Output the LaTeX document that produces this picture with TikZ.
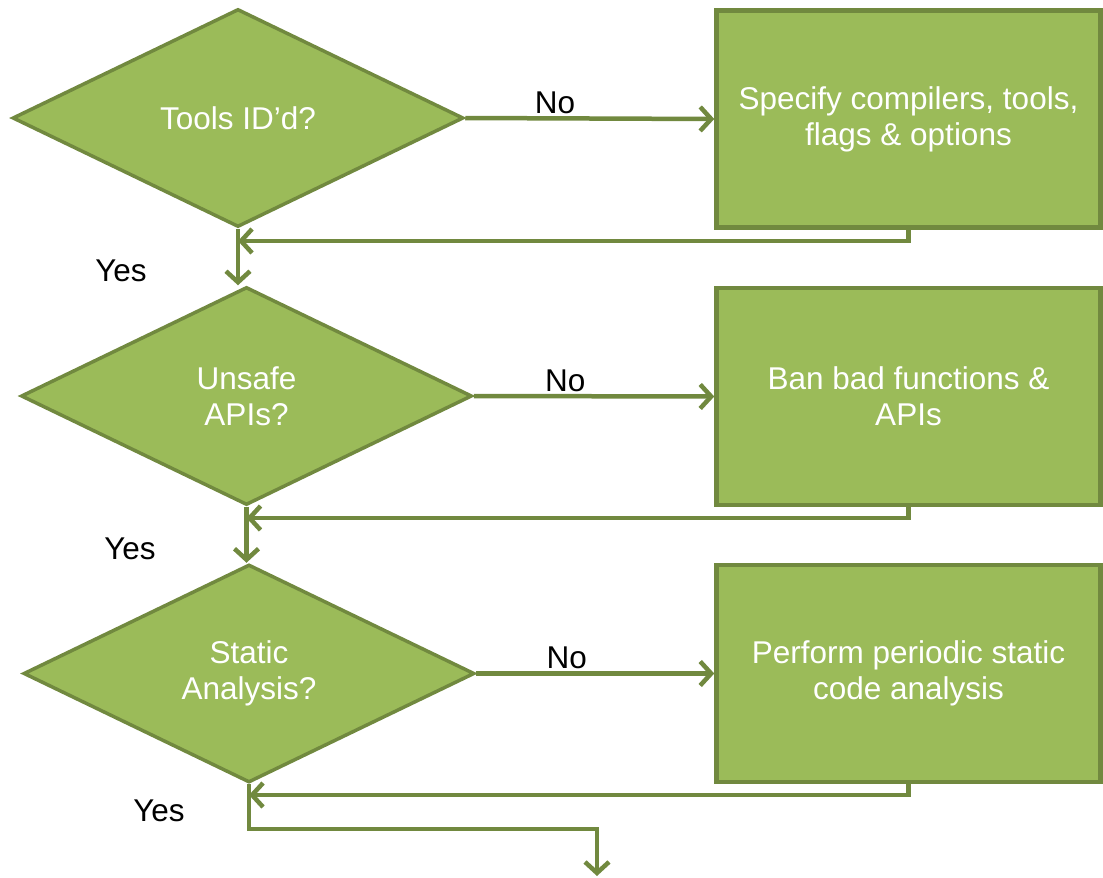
\documentclass[tikz,border=0pt]{standalone}
\usepackage{fontspec}
\setmainfont{Liberation Sans}
\usetikzlibrary{shapes.geometric,arrows.meta}
\definecolor{gfill}{HTML}{9BBB59}
\definecolor{gline}{HTML}{71893F}
\begin{document}
\begin{tikzpicture}[x=1pt,y=-1pt,
  every node/.style={font=\fontsize{31.5}{36}\selectfont},
  decision/.style={diamond,draw=gline,fill=gfill,line width=3.5pt,inner sep=0pt,
    minimum width=451pt,minimum height=218pt,text=white,align=center},
  stepbox/.style={rectangle,draw=gline,fill=gfill,line width=4.5pt,inner sep=0pt,
    minimum width=384pt,minimum height=217pt,text=white,align=center},
  conn/.style={draw=gline,line width=4.5pt},
  arr/.style={conn,-{Straight Barb[length=11pt,width=24pt]}},
  lbl/.style={text=black}]
\useasboundingbox (0,0) rectangle (1103,878);
% decisions
\node[decision] (d1) at (238,118) {Tools ID’d?};
\node[decision] (d2) at (246.5,396) {Unsafe\\APIs?};
\node[decision] (d3) at (249,673.5) {Static\\Analysis?};
% boxes
\node[stepbox] (b1) at (908.5,119) {Specify compilers, tools,\\flags \& options};
\node[stepbox] (b2) at (908.5,396.5) {Ban bad functions \&\\APIs};
\node[stepbox] (b3) at (908.5,673.5) {Perform periodic static\\code analysis};
% No arrows
\draw[arr] (d1.east) -- (b1.west) node[lbl,pos=0.36,above=-1pt] {No};
\draw[arr] (d2.east) -- (b2.west) node[lbl,pos=0.38,above=-1pt] {No};
\draw[arr] (d3.east) -- (b3.west) node[lbl,pos=0.38,above=-1pt] {No};
% return arrows
\coordinate (j1) at (238,241);
\coordinate (j2) at (246.5,518);
\coordinate (j3) at (249,795);
\draw[arr] (b1.south) |- (j1);
\draw[arr] (b2.south) |- (j2);
\draw[arr] (b3.south) |- (j3);
% Yes arrows
\draw[arr] (d1.south) -- (d1.south |- d2.north);
\draw[arr] (d2.south) -- (d2.south |- d3.north);
\coordinate (c1) at (597,829);
\coordinate (endp) at (597,876);
\draw[arr] (d3.south) |- (c1) -- (endp);
% Yes labels
\node[lbl] (y1) at (121,271) {Yes};
\node[lbl] (y2) at (130,549) {Yes};
\node[lbl] (y3) at (159,811) {Yes};
\end{tikzpicture}
\end{document}
